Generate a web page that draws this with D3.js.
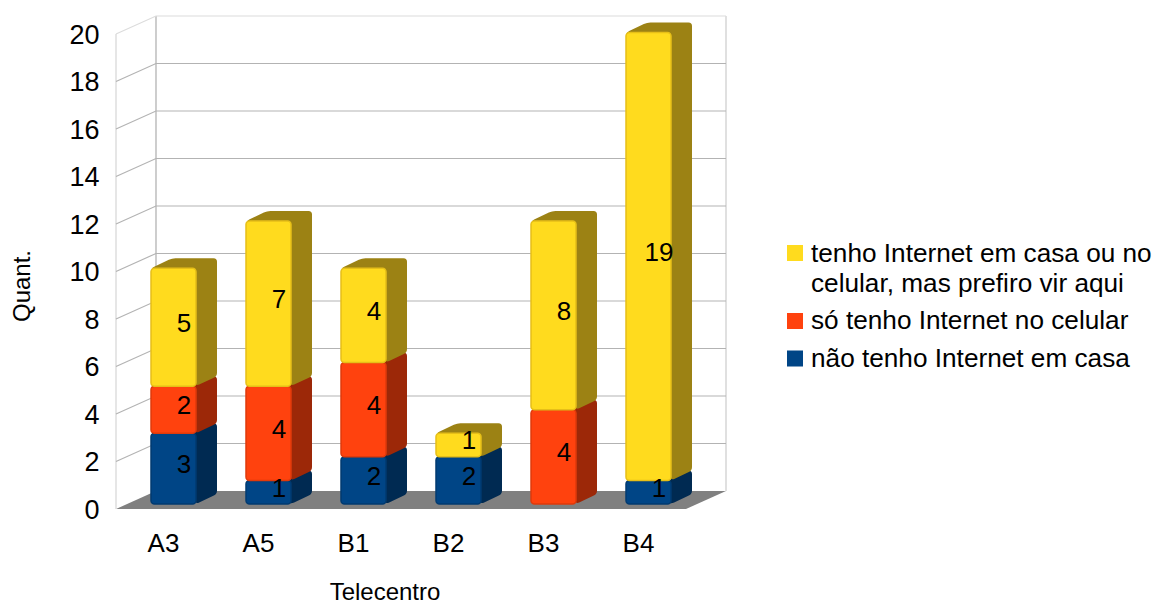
<!DOCTYPE html>
<html><head><meta charset="utf-8">
<script src="https://cdn.jsdelivr.net/npm/d3@7"></script>
<style>
html,body{margin:0;padding:0;background:#fff}
svg{display:block}
text{font-family:"Liberation Sans",Arial,sans-serif;fill:#000}
</style></head><body>
<svg id="chart" width="1154" height="602"></svg>
<script>
// Stacked 3D-style column chart of internet access by telecentre
const categories = ["A3","A5","B1","B2","B3","B4"];
const semInternet = [3,1,2,2,0,1];
const soCelular   = [2,4,4,0,4,0];
const prefiroAqui = [5,7,4,1,8,19];
const yTicks = d3.range(0,21,2);
const seriesFront = ["#004586","#ff420e","#ffdb1e"];
const seriesSide  = ["#002a52","#9c2808","#9c8214"];
const seriesEdge  = ["#003a70","#e03a0b","#e6bf18"];
const seriesData = [semInternet, soCelular, prefiroAqui];

const svg = d3.select("#chart");

// Oblique projection: front plane of the box, and the offset to its back wall
const depth = {x:40, y:-18};
const x = d3.scaleBand().domain(categories).range([116,686]);
const y = d3.scaleLinear().domain([0,20]).range([509,34]);
// Columns sit inside the box, so they use their own slightly nearer plane
const yBar = d3.scaleLinear().domain([0,20]).range([504,32.5]);
const barWidth = 45;
const barDepth = {x:21, y:-10};
const barShiftX = 10.5;

// Polygon with softened corners
function roundedPoly(pts, r){
  const n = pts.length; let d = "";
  pts.forEach((p,i)=>{
    const a = pts[(i+n-1)%n], b = pts[(i+1)%n];
    const la = Math.hypot(a[0]-p[0],a[1]-p[1]), lb = Math.hypot(b[0]-p[0],b[1]-p[1]);
    const ra = Math.min(r,la/2), rb = Math.min(r,lb/2);
    const s = [p[0]+(a[0]-p[0])*ra/la, p[1]+(a[1]-p[1])*ra/la];
    const e = [p[0]+(b[0]-p[0])*rb/lb, p[1]+(b[1]-p[1])*rb/lb];
    d += (i?"L":"M")+s[0]+","+s[1]+"Q"+p[0]+","+p[1]+" "+e[0]+","+e[1];
  });
  return d+"Z";
}

// Floor
const x0 = x.range()[0], x1 = x.range()[1], yB = y(0);
svg.append("path")
  .attr("d",d3.line()([[x0,yB],[x0+depth.x,yB+depth.y],[x1+depth.x,yB+depth.y],[x1,yB]])+"Z")
  .attr("fill","#808080");

// Walls
const wall = svg.append("g").attr("fill","none");
wall.append("path")
  .attr("d",d3.line()([[x0,yB],[x0,y(20)]]))
  .attr("stroke","#d9d9d9").attr("stroke-width",1.3);
wall.append("path")
  .attr("d",d3.line()([[x0+depth.x,yB+depth.y],[x0+depth.x,y(20)+depth.y]]))
  .attr("stroke","#b3b3b3").attr("stroke-width",1.3);
wall.append("path")
  .attr("d",d3.line()([[x1+depth.x,yB+depth.y],[x1+depth.x,y(20)+depth.y]]))
  .attr("stroke","#cfcfcf").attr("stroke-width",1.3);
wall.selectAll("path.grid").data(yTicks.filter(t=>t>0)).join("path")
  .attr("class","grid")
  .attr("d",t=>d3.line()([[x0,y(t)],[x0+depth.x,y(t)+depth.y],[x1+depth.x,y(t)+depth.y]]))
  .attr("stroke",t=>t===20?"#dcdcdc":"#b3b3b3").attr("stroke-width",1.2);

// Columns, stacked bottom to top
const stacks = d3.stack().keys([0,1,2]).value((d,k)=>seriesData[k][d])(d3.range(categories.length));
const barsLayer = svg.append("g");
const labelsLayer = svg.append("g");
categories.forEach((c,i)=>{
  stacks.forEach((s,k)=>{
    const [v0,v1] = s[i];
    if(v1===v0) return;
    const left = x(c)+x.bandwidth()/2-barWidth/2+barShiftX-0.5;
    const right = left+barWidth;
    const bot = yBar(v0), top = yBar(v1);
    barsLayer.append("path")
      .attr("d",roundedPoly([[left,top],[left+barDepth.x,top+barDepth.y],[right+barDepth.x,top+barDepth.y],
        [right+barDepth.x,bot+barDepth.y],[right,bot]],3.5))
      .attr("fill",seriesSide[k]);
    barsLayer.append("rect")
      .attr("x",left).attr("y",top).attr("width",barWidth).attr("height",bot-top)
      .attr("rx",3.5).attr("ry",3.5)
      .attr("fill",seriesFront[k]).attr("stroke",seriesEdge[k]).attr("stroke-width",1.5);
    labelsLayer.append("text")
      .attr("x",left+barWidth/2+barDepth.x/2).attr("y",(top+bot)/2+barDepth.y/2)
      .attr("dy","0.36em").attr("text-anchor","middle").attr("font-size",26).text(seriesData[k][i]);
  });
});

// Value axis labels
const yAxis = svg.append("g").attr("transform","translate(99.5,0.7)")
  .call(d3.axisLeft(y).tickValues(yTicks).tickSize(0).tickPadding(0));
yAxis.select(".domain").remove();
yAxis.selectAll("text").attr("font-size",27).style("font-family",'"Liberation Sans"').attr("fill","#000");

// Category axis labels
const xAxis = svg.append("g").attr("transform","translate(0,552)")
  .call(d3.axisBottom(x).tickSize(0).tickPadding(0));
xAxis.select(".domain").remove();
xAxis.selectAll("text").attr("font-size",26).attr("dy",0).attr("y",0).style("font-family",'"Liberation Sans"').attr("fill","#000");

// Axis titles
svg.append("text").attr("x",385).attr("y",600).attr("text-anchor","middle").attr("font-size",24).text("Telecentro");
svg.append("text").attr("transform","translate(30,286) rotate(-90)").attr("text-anchor","middle").attr("font-size",24).text("Quant.");

// Legend, listed top series first
const legendRows = [
  {k:2, boxY:245, lines:[["tenho Internet em casa ou no",262],["celular, mas prefiro vir aqui",292]]},
  {k:1, boxY:313, lines:[["só tenho Internet no celular",329]]},
  {k:0, boxY:350.5, lines:[["não tenho Internet em casa",367]]}
];
const legend = svg.append("g");
legendRows.forEach(r=>{
  legend.append("rect").attr("x",787).attr("y",r.boxY).attr("width",16).attr("height",16).attr("fill",seriesFront[r.k]);
  r.lines.forEach(l=>{
    legend.append("text").attr("x",811).attr("y",l[1]).attr("font-size",26.2).text(l[0]);
  });
});
</script>
</body></html>
